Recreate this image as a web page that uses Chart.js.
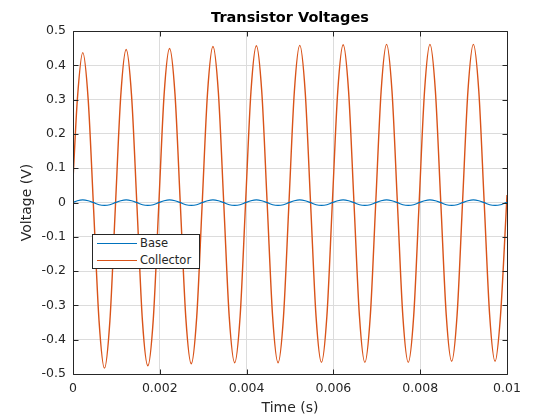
<!DOCTYPE html>
<html lang="en">
<head>
    <meta charset="UTF-8">
    <title>Transistor Voltages</title>
    <script src="https://cdn.jsdelivr.net/npm/chart.js"></script>
    <style>
        body {
            margin: 0;
            background: #ffffff;
            font-family: 'DejaVu Sans', sans-serif;
        }
        .wrap {
            position: relative;
            width: 560px;
            height: 420px;
        }
        .legend {
            position: absolute;
            left: 92px;
            top: 234px;
            width: 108px;
            height: 35px;
            box-sizing: border-box;
            border: 1px solid #262626;
            background: #ffffff;
        }
        .legend .row {
            position: absolute;
            left: 0;
            width: 100%;
            height: 16px;
        }
        .legend .swatch {
            position: absolute;
            left: 4px;
            top: 8px;
            width: 40px;
            height: 1px;
        }
        .legend .label {
            position: absolute;
            left: 47px;
            top: 0;
            font-size: 11.5px;
            line-height: 16px;
            color: #262626;
            white-space: nowrap;
        }
    </style>
</head>
<body>
<div class="wrap">
    <canvas id="chart" width="560" height="420"></canvas>
    <div class="legend" id="legend"></div>
</div>

<script>
// time samples (s)
const times = [0,
    0.0001, 0.000225, 0.00035, 0.000475, 0.0006, 0.000725, 0.00085, 0.000975,
    0.0011, 0.001225, 0.00135, 0.001475, 0.0016, 0.001725, 0.00185, 0.001975,
    0.0021, 0.002225, 0.00235, 0.002475, 0.0026, 0.002725, 0.00285, 0.002975,
    0.0031, 0.003225, 0.00335, 0.003475, 0.0036, 0.003725, 0.00385, 0.003975,
    0.0041, 0.004225, 0.00435, 0.004475, 0.0046, 0.004725, 0.00485, 0.004975,
    0.0051, 0.005225, 0.00535, 0.005475, 0.0056, 0.005725, 0.00585, 0.005975,
    0.0061, 0.006225, 0.00635, 0.006475, 0.0066, 0.006725, 0.00685, 0.006975,
    0.0071, 0.007225, 0.00735, 0.007475, 0.0076, 0.007725, 0.00785, 0.007975,
    0.0081, 0.008225, 0.00835, 0.008475, 0.0086, 0.008725, 0.00885, 0.008975,
    0.0091, 0.009225, 0.00935, 0.009475, 0.0096, 0.009725, 0.00985, 0.009975,
    0.01];

// base voltage (V)
const baseV = [0,
    0.005, 0.0075, 0.005, -0.0005, -0.0065, -0.0085, -0.0065, -0.0005,
    0.005, 0.0075, 0.005, -0.0005, -0.0065, -0.0085, -0.0065, -0.0005,
    0.005, 0.0075, 0.005, -0.0005, -0.0065, -0.0085, -0.0065, -0.0005,
    0.005, 0.0075, 0.005, -0.0005, -0.0065, -0.0085, -0.0065, -0.0005,
    0.005, 0.0075, 0.005, -0.0005, -0.0065, -0.0085, -0.0065, -0.0005,
    0.005, 0.0075, 0.005, -0.0005, -0.0065, -0.0085, -0.0065, -0.0005,
    0.005, 0.0075, 0.005, -0.0005, -0.0065, -0.0085, -0.0065, -0.0005,
    0.005, 0.0075, 0.005, -0.0005, -0.0065, -0.0085, -0.0065, -0.0005,
    0.005, 0.0075, 0.005, -0.0005, -0.0065, -0.0085, -0.0065, -0.0005,
    0.005, 0.0075, 0.005, -0.0005, -0.0065, -0.0085, -0.0065, -0.0005,
    0];

// collector voltage (V)
const collectorV = [0.065,
    0.30, 0.437, 0.30, -0.02, -0.345, -0.483, -0.345, -0.017,
    0.31, 0.446, 0.31, -0.014, -0.345, -0.476, -0.34, -0.012,
    0.316, 0.449, 0.316, -0.01, -0.337, -0.47, -0.335, -0.008,
    0.32, 0.455, 0.32, -0.006, -0.334, -0.467, -0.333, -0.005,
    0.322, 0.457, 0.322, -0.005, -0.333, -0.467, -0.333, -0.004,
    0.323, 0.458, 0.323, -0.004, -0.332, -0.466, -0.331, -0.003,
    0.324, 0.46, 0.324, -0.003, -0.331, -0.466, -0.331, -0.002,
    0.325, 0.461, 0.325, -0.002, -0.331, -0.466, -0.331, -0.002,
    0.325, 0.461, 0.325, -0.001, -0.328, -0.463, -0.328, -0.001,
    0.325, 0.461, 0.325, -0.001, -0.328, -0.463, -0.33, -0.04,
    0.022];

const seriesNames = ['Base', 'Collector'];
const seriesColors = ['#0072bd', '#d95319'];

const xTicks = [0, 0.002, 0.004, 0.006, 0.008, 0.01];
const xTickLabels = ['0', '0.002', '0.004', '0.006', '0.008', '0.01'];
const yTicks = [-0.5, -0.4, -0.3, -0.2, -0.1, 0, 0.1, 0.2, 0.3, 0.4, 0.5];
const yTickLabels = ['-0.5', '-0.4', '-0.3', '-0.2', '-0.1', '0', '0.1', '0.2', '0.3', '0.4', '0.5'];

const axisColor = '#262626';

// box around the plot with inward tick marks on all four sides
const framePlugin = {
    id: 'frame',
    afterDatasetsDraw(chart) {
        const { ctx, chartArea: a, scales } = chart;
        const L = Math.floor(a.left) + 0.5, R = Math.floor(a.right) + 0.5;
        const T = Math.floor(a.top) + 0.5, B = Math.floor(a.bottom) + 0.5;
        const len = 5;
        ctx.save();
        ctx.strokeStyle = axisColor;
        ctx.lineWidth = 1;
        ctx.beginPath();
        ctx.rect(L, T, R - L, B - T);
        xTicks.forEach(v => {
            const px = Math.round(scales.x.getPixelForValue(v)) + 0.5;
            ctx.moveTo(px, B); ctx.lineTo(px, B - len);
            ctx.moveTo(px, T); ctx.lineTo(px, T + len);
        });
        yTicks.forEach(v => {
            const py = Math.round(scales.y.getPixelForValue(v)) + 0.5;
            ctx.moveTo(L, py); ctx.lineTo(L + len, py);
            ctx.moveTo(R, py); ctx.lineTo(R - len, py);
        });
        ctx.stroke();
        ctx.restore();
    }
};

Chart.defaults.font.family = "'DejaVu Sans', sans-serif";
Chart.defaults.color = axisColor;

const series = [baseV, collectorV];
const datasets = series.map((vals, i) => ({
    label: seriesNames[i],
    data: times.map((t, j) => ({ x: t, y: vals[j] })),
    borderColor: seriesColors[i],
    backgroundColor: seriesColors[i],
    borderWidth: i === 0 ? 1.2 : 1.4,
    pointRadius: 0,
    fill: false,
    cubicInterpolationMode: 'monotone'
}));

const ctx = document.getElementById('chart').getContext('2d');
new Chart(ctx, {
    type: 'line',
    data: { datasets: datasets },
    options: {
        responsive: false,
        devicePixelRatio: 1,
        animation: false,
        layout: { padding: { left: 0, right: 53, top: 0, bottom: 0 } },
        plugins: {
            legend: { display: false },
            tooltip: { enabled: false },
            title: {
                display: true,
                fullSize: false,
                text: 'Transistor Voltages',
                color: '#000000',
                font: { size: 14.5, weight: 'bold' },
                padding: { top: 9.6, bottom: 4 }
            }
        },
        scales: {
            x: {
                type: 'linear',
                min: 0,
                max: 0.01,
                afterBuildTicks: s => { s.ticks = xTicks.map(v => ({ value: v })); },
                afterFit: s => { s.height = 46; },
                ticks: {
                    padding: 7,
                    font: { size: 12.5 },
                    color: axisColor,
                    maxRotation: 0,
                    callback: (v, i) => xTickLabels[i]
                },
                grid: { color: '#dcdcdc', drawTicks: false },
                border: { display: false },
                title: {
                    display: true,
                    text: 'Time (s)',
                    font: { size: 14 },
                    color: axisColor,
                    padding: { top: 0, bottom: 3 }
                }
            },
            y: {
                type: 'linear',
                min: -0.5,
                max: 0.5,
                afterBuildTicks: s => { s.ticks = yTicks.map(v => ({ value: v })); },
                afterFit: s => { s.width = 73; },
                ticks: {
                    padding: 7,
                    font: { size: 12.5 },
                    color: axisColor,
                    callback: (v, i) => yTickLabels[i]
                },
                grid: { color: '#dcdcdc', drawTicks: false },
                border: { display: false },
                title: {
                    display: true,
                    text: 'Voltage (V)',
                    font: { size: 14 },
                    color: axisColor,
                    padding: { top: 19, bottom: 0 }
                }
            }
        }
    },
    plugins: [framePlugin]
});

// legend box inside the plot, built from the series names and colours
const legendEl = document.getElementById('legend');
seriesNames.forEach((name, i) => {
    const row = document.createElement('div');
    row.className = 'row';
    row.style.top = (i * 16.7) + 'px';
    const sw = document.createElement('div');
    sw.className = 'swatch';
    sw.style.background = seriesColors[i];
    const lb = document.createElement('span');
    lb.className = 'label';
    lb.textContent = name;
    row.appendChild(sw);
    row.appendChild(lb);
    legendEl.appendChild(row);
});
</script>
</body>
</html>
